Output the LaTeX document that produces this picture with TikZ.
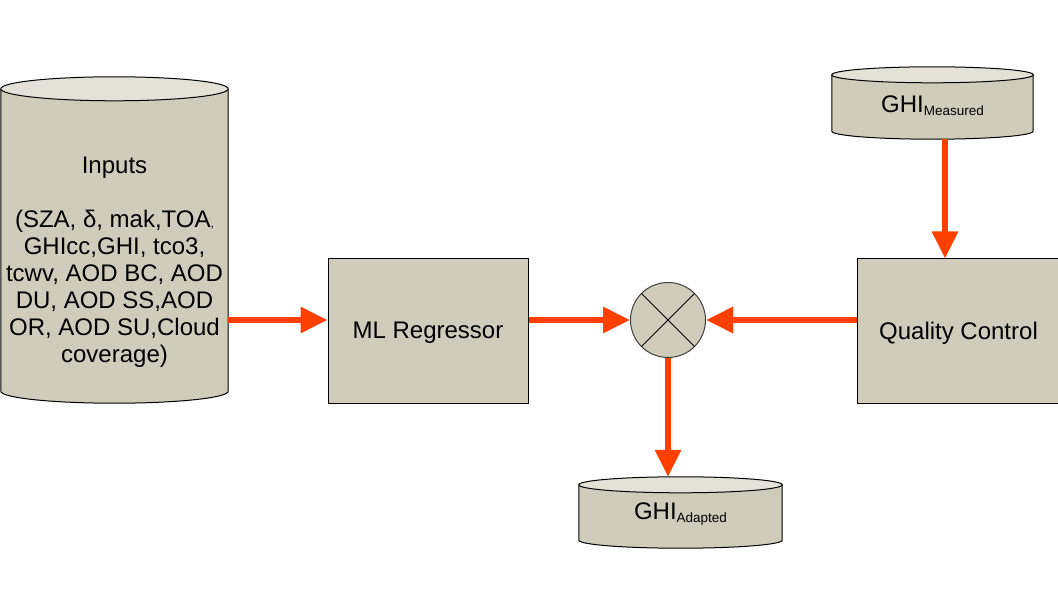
\documentclass[tikz,border=0pt]{standalone}
\usepackage{fontspec}
\setmainfont{Liberation Sans}
\usetikzlibrary{arrows.meta,calc}

\definecolor{boxfill}{RGB}{207,204,187}
\definecolor{capfill}{RGB}{227,225,216}
\definecolor{flow}{RGB}{255,64,0}

\tikzset{
    block/.style={draw=black,fill=boxfill,line width=1pt,inner sep=0pt,
        minimum height=145pt,font=\fontsize{24}{27}\selectfont},
    store/.style={inner sep=0pt,font=\fontsize{24}{27}\selectfont},
    flowline/.style={draw=flow,line width=6pt,-{Triangle[length=27pt,width=25pt]}},
}

\newcommand{\sublabel}[1]{\raisebox{-3pt}{\fontsize{13.5}{14}\selectfont #1}}

\begin{document}
\begin{tikzpicture}[x=1pt,y=1pt]
            \path[use as bounding box,fill=white] (0,0) rectangle (1058,595);

            % data stores
            \node[store,minimum width=227pt,minimum height=326pt] (inputs) at (114.5,355) {};
            \node[store,minimum width=201pt,minimum height=72pt] (meas) at (932.5,492) {};
            \node[store,minimum width=203pt,minimum height=71pt] (adapted) at (680.5,82.5) {};
            \foreach \cyl/\ry in {inputs/12,meas/8,adapted/8} {
                \fill[boxfill] let \p1=(\cyl.north west), \p2=(\cyl.south east), \n1={(\x2-\x1)/2} in
                    (\x1,\y1-\ry) -- (\x1,\y2+\ry)
                    arc[start angle=180,end angle=360,x radius=\n1,y radius=\ry pt]
                    -- (\x2,\y1-\ry) -- cycle;
                \draw[line width=1pt] let \p1=(\cyl.north west), \p2=(\cyl.south east), \n1={(\x2-\x1)/2} in
                    (\x1,\y1-\ry) -- (\x1,\y2+\ry)
                    arc[start angle=180,end angle=360,x radius=\n1,y radius=\ry pt]
                    -- (\x2,\y1-\ry);
                \draw[line width=1pt,fill=capfill] let \p1=(\cyl.north west), \p2=(\cyl.south east), \n1={(\x2-\x1)/2} in
                    ({(\x1+\x2)/2},\y1-\ry) ellipse[x radius=\n1,y radius=\ry pt];
            }
            \node[store] (meastxt) at ([yshift=-3pt]meas.center) {GHI\sublabel{Measured}};
            \node[store] (adaptedtxt) at ([yshift=-2pt]adapted.center) {GHI\sublabel{Adapted}};
            \node[store,align=center] (inputtxt) at ([yshift=-22pt]inputs.center)
                {Inputs\\[27pt](SZA, δ, mak,TOA{\fontsize{12}{12}\selectfont ,}\\GHIcc,GHI, tco3,\\
                 tcwv, AOD BC, AOD\\DU, AOD SS,AOD\\OR, AOD SU,Cloud\\coverage)};

            % processing blocks
            \node[block,minimum width=200pt,text depth=2pt] (ml) at (428,263.5) {ML Regressor};
            \node[block,minimum width=203pt,text depth=2pt] (qc) at (958.5,263.5) {Quality Control};
            \node[circle,draw=black!75,line width=1pt,fill=boxfill,minimum size=75pt,inner sep=0pt] (sum) at (668,275) {};
            \draw[line width=1pt] (sum.north west) -- (sum.south east);
            \draw[line width=1pt] (sum.north east) -- (sum.south west);

            % flows
            \draw[flowline] (inputs.east |- sum) -- (ml.west |- sum);
            \draw[flowline] (ml.east |- sum) -- (sum.west);
            \draw[flowline] (qc.west |- sum) -- (sum.east);
            \draw[flowline] ([xshift=12.5pt]meas.south) -- ([xshift=12.5pt]meas.south |- qc.north);
            \draw[flowline] (sum.south) -- (sum.south |- adapted.north);
        \end{tikzpicture}
\end{document}
